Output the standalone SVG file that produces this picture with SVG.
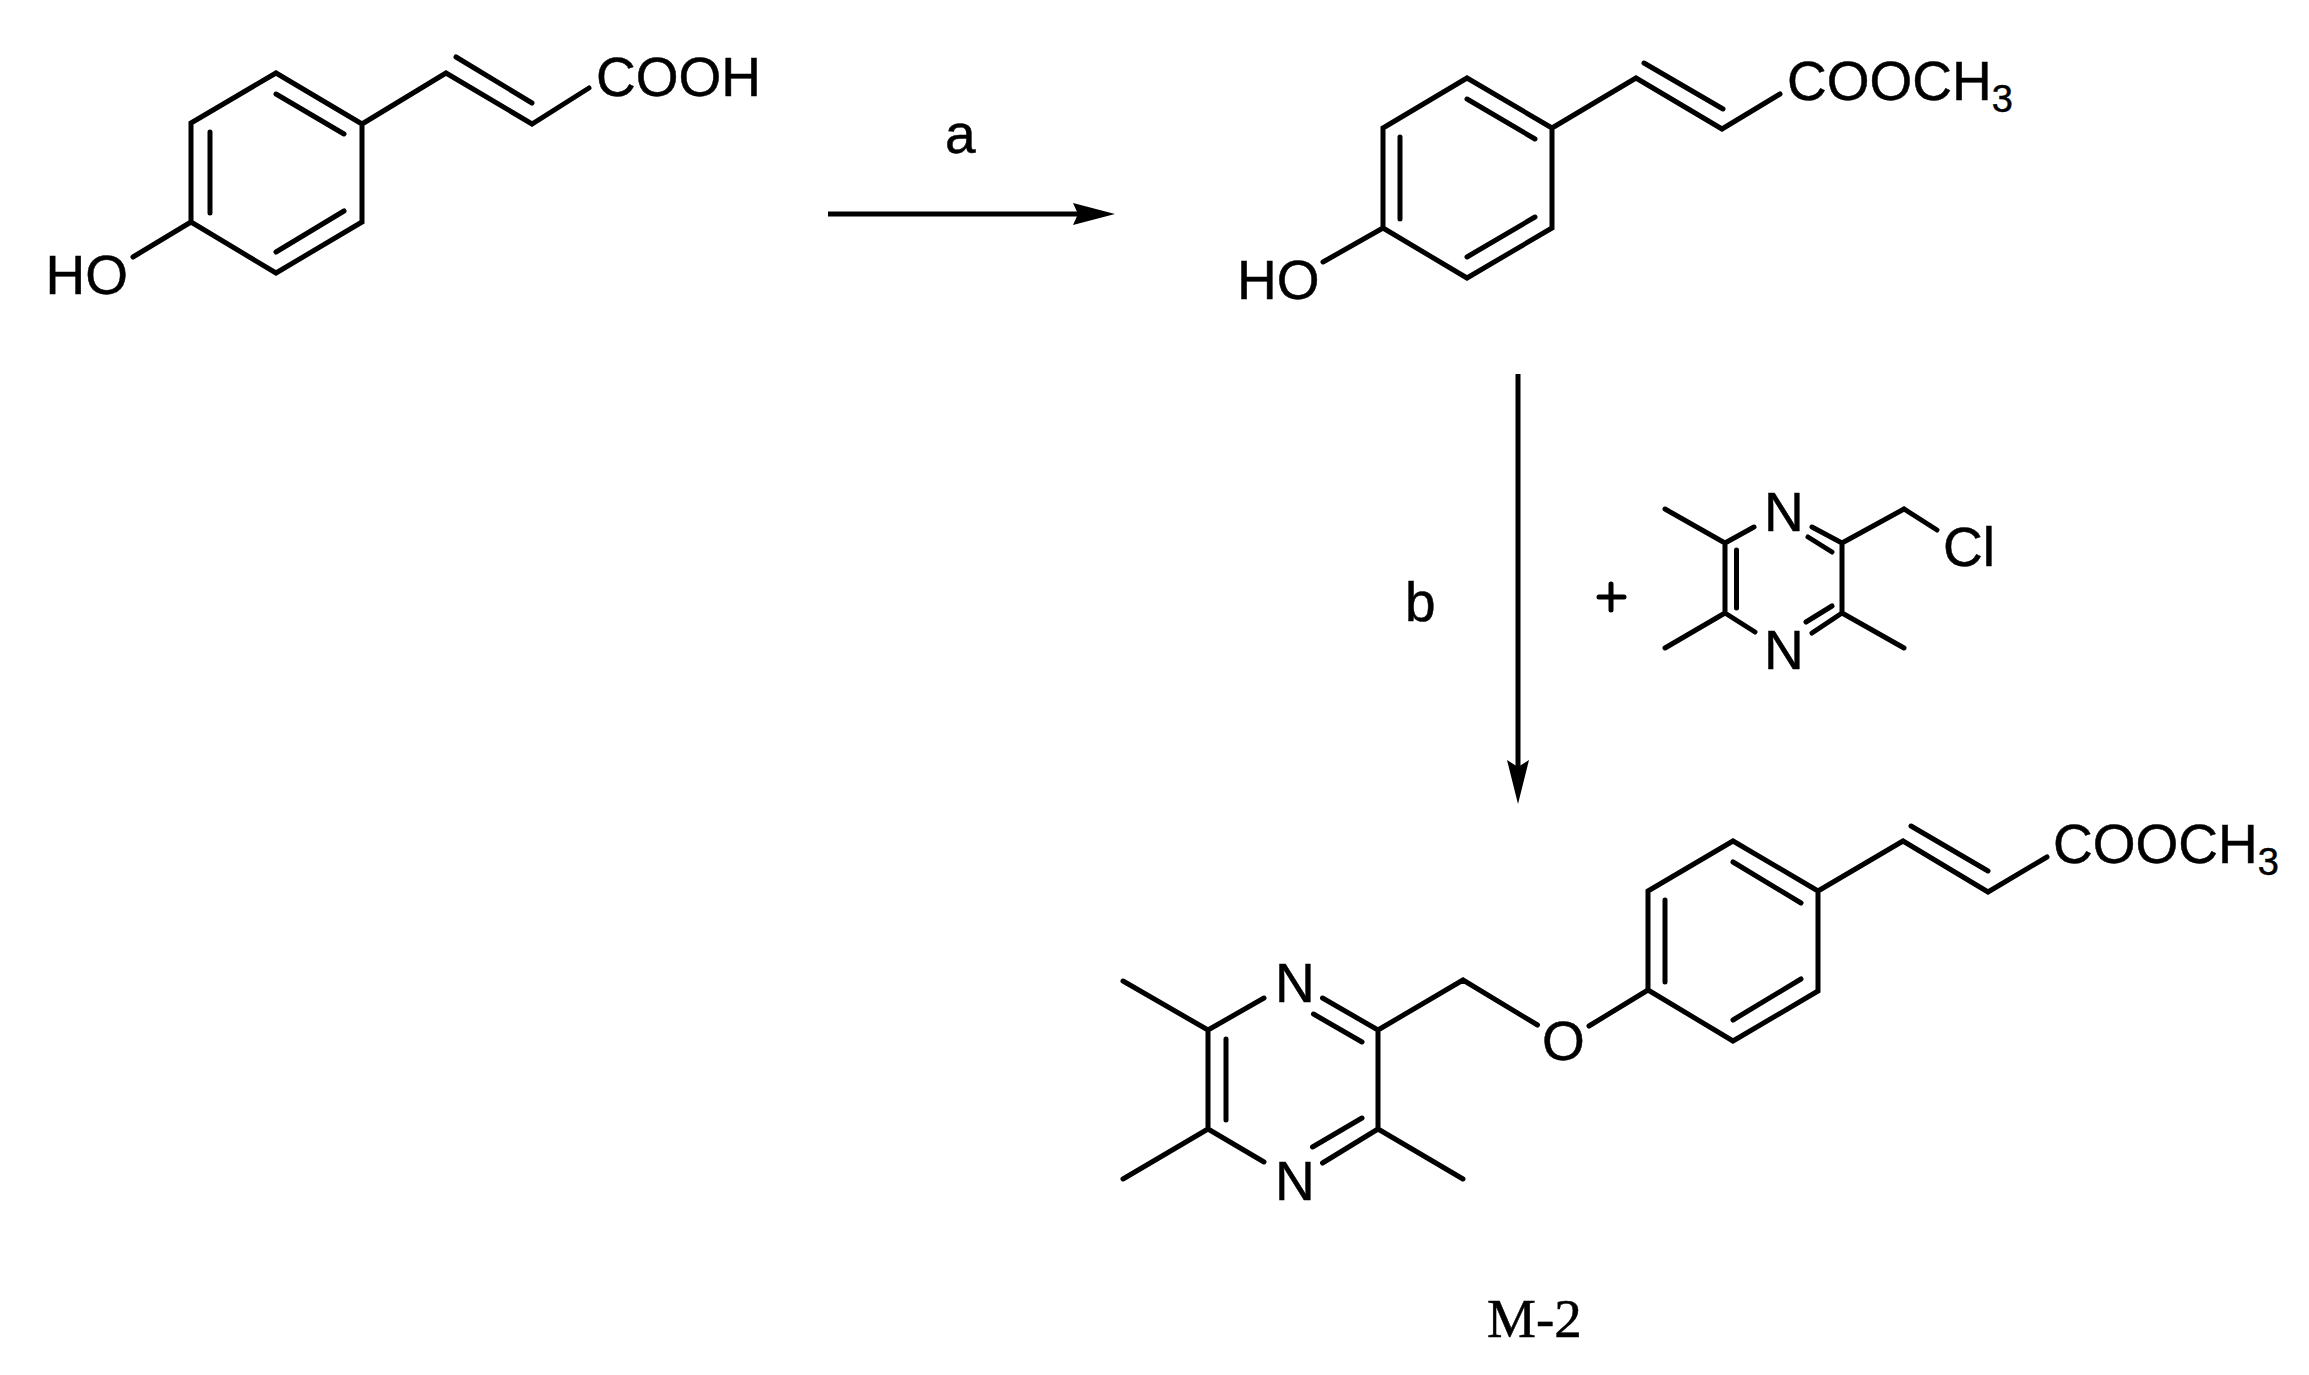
<svg xmlns="http://www.w3.org/2000/svg" width="2309" height="1375" viewBox="0 0 2309 1375">
<style>
.b{fill:none;stroke:#000;stroke-width:5;stroke-linecap:round;stroke-linejoin:miter}
.a{fill:none;stroke:#000;stroke-width:5}
text{font-family:"Liberation Sans",Arial,sans-serif;font-size:55px;fill:#000;stroke:#000;stroke-width:.5}
.s{font-size:38px}
.m{font-family:"Liberation Serif","Times New Roman",serif;font-size:55px}
</style>
<rect width="2309" height="1375" fill="#fff"/>
<g id="connectors">
<line class="a" x1="828" y1="214" x2="1085" y2="214"/>
<polygon points="1115,214 1073,203 1078,214 1073,225"/>
<line class="a" x1="1518" y1="374" x2="1518" y2="775"/>
<polygon points="1518,804 1507,760 1518,767 1529,760"/>
</g>
<g id="acid">
<path class="b" d="M276,73 362,124V222L276,273 191,222V123ZM210,132V213M276,94 344,134M276,252 344,211M191,222 133,257M362,124 446,73 532,124 589,88M456,57 532,103"/>
<text x="45.500" y="294">HO</text>
<text x="596" y="96">COOH</text>
</g>
<g id="ester">
<path class="b" d="M1467,78 1552,128V228L1467,278 1383,228V128ZM1400,137V219M1467,99 1535,139M1467,257 1535,217M1383,228 1323,262M1552,128 1636,78 1722,129 1780,94M1644,63 1723,109"/>
<text x="1237" y="299">HO</text>
<text x="1787" y="100">COOCH<tspan class="s" dy="12">3</tspan></text>
</g>
<g id="label-a"><text x="945" y="153">a</text></g>
<g id="label-b"><text x="1405" y="621">b</text></g>
<g id="plus"><path class="b" d="M1599,597H1624M1611,584V610"/></g>
<g id="chloride">
<path class="b" d="M1665,509 1725,543V613L1665,648M1725,543 1754,527M1725,613 1755,632M1736.500,550V608M1812,527 1842,543V613L1904,648M1808,537 1832,552M1812,633 1842,613M1806,622 1832,606M1842,543 1904,509 1937,530"/>
<text x="1764" y="531">N</text>
<text x="1764" y="669">N</text>
<text x="1943" y="566">Cl</text>
</g>
<g id="product">
<path class="b" d="M1123,981 1208,1030V1129L1123,1179M1208,1030 1264,998M1208,1129 1264,1162M1226,1039V1120M1322.500,998 1378,1030V1129L1463,1179M1313.500,1014 1362,1042M1322.500,1163 1378,1129M1312.500,1147 1362,1118M1378,1030 1463,980 1537.500,1025M1589,1026 1648,990"/>
<path class="b" d="M1733,841 1818,891V991L1733,1041 1648,990V891ZM1665,900V982M1733,862 1801,903M1733,1020 1801,979M1818,891 1903,841 1988,892 2047,857M1911,826 1988,871"/>
<text x="1275" y="1002">N</text>
<text x="1275" y="1200">N</text>
<text x="1542" y="1060">O</text>
<text x="2053" y="863">COOCH<tspan class="s" dy="12">3</tspan></text>
</g>
<g id="label-m2"><text class="m" x="1487" y="1337">M-2</text></g>
</svg>
